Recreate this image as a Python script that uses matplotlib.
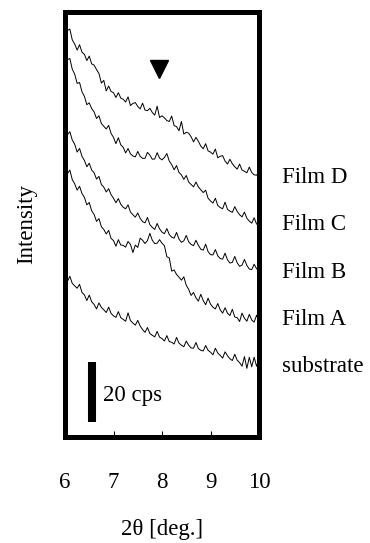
import numpy as np
import matplotlib
matplotlib.use('Agg')
import matplotlib.pyplot as plt

plt.rcParams['font.family'] = ['Liberation Serif', 'DejaVu Serif']

# 2theta grid (deg) and intensities (cps), curves stacked
two_theta = np.round(np.arange(6.0, 10.001, 0.05), 2)

film_d = [138.2, 135.5, 136.0, 132.4, 131.0, 129.0, 130.8, 128.3, 127.6, 125.5,
          127.0, 124.4, 124.0, 122.5, 121.2, 118.0, 118.9, 115.4, 117.0, 115.2,
          114.8, 113.2, 114.8, 113.0, 112.6, 111.7, 113.4, 110.5, 111.2, 111.5,
          110.2, 109.4, 111.3, 109.0, 108.8, 109.6, 108.2, 107.3, 110.3, 106.5,
          107.1, 106.4, 105.5, 105.2, 107.0, 103.8, 103.5, 102.1, 105.2, 101.0,
          101.6, 101.3, 100.1, 98.4, 99.9, 98.6, 97.0, 96.1, 97.8, 95.4,
          95.0, 94.3, 96.0, 93.1, 93.6, 93.8, 92.0, 91.0, 92.6, 91.1,
          90.1, 89.3, 91.0, 89.0, 88.6, 88.1, 90.0, 88.2, 87.4, 87.3,
          88.4]

film_c = [128.9, 125.8, 126.2, 122.6, 121.0, 117.9, 118.2, 115.1, 113.6, 110.8,
          111.4, 109.5, 108.4, 106.2, 107.1, 104.5, 103.6, 102.7, 103.9, 101.2,
          99.9, 97.8, 99.8, 97.4, 96.6, 94.7, 96.2, 94.4, 93.7, 93.4,
          95.2, 93.6, 92.9, 92.9, 94.9, 94.0, 92.6, 92.7, 94.8, 93.0,
          92.4, 93.2, 94.5, 92.0, 90.8, 89.1, 90.5, 88.2, 87.4, 85.9,
          87.2, 85.0, 84.2, 83.4, 85.0, 83.4, 82.4, 81.5, 82.3, 79.6,
          78.7, 78.0, 79.6, 77.2, 76.5, 76.1, 78.3, 75.9, 75.3, 74.9,
          76.8, 75.2, 74.1, 73.4, 75.0, 72.9, 72.0, 71.3, 73.1, 71.0,
          70.6]

film_b = [103.7, 100.8, 101.8, 99.0, 97.6, 95.0, 96.2, 93.6, 92.2, 90.1,
          91.3, 89.0, 88.1, 86.0, 86.9, 84.2, 83.3, 81.7, 82.8, 80.8,
          79.6, 78.1, 79.5, 77.6, 76.6, 76.1, 77.4, 75.0, 74.1, 73.3,
          74.7, 72.9, 71.8, 71.4, 73.2, 70.8, 69.9, 69.2, 71.2, 69.4,
          68.3, 67.8, 69.5, 67.5, 66.6, 66.3, 68.2, 66.0, 64.9, 65.4,
          67.2, 65.1, 64.2, 63.8, 65.6, 63.9, 62.6, 62.3, 64.3, 61.8,
          60.8, 60.7, 62.5, 60.4, 59.5, 59.3, 61.3, 59.1, 58.0, 58.2,
          60.2, 58.1, 56.9, 57.3, 59.2, 57.2, 56.0, 55.8, 57.6, 56.1,
          55.6]

film_a = [90.3, 87.8, 89.0, 85.8, 84.4, 82.3, 83.6, 81.2, 79.9, 77.4,
          78.2, 75.4, 74.2, 71.9, 72.8, 70.1, 69.2, 67.7, 68.9, 66.2,
          65.5, 63.6, 65.8, 64.0, 63.9, 63.3, 65.2, 64.2, 61.5, 64.0,
          63.2, 66.3, 65.6, 64.5, 65.5, 67.9, 65.6, 64.5, 64.6, 65.8,
          64.6, 63.8, 60.1, 59.7, 55.3, 55.7, 54.2, 53.3, 52.3, 53.4,
          50.6, 49.2, 47.2, 48.2, 46.4, 45.3, 47.6, 45.5, 44.1, 46.3,
          44.3, 43.3, 42.7, 44.5, 42.4, 41.3, 43.1, 41.3, 40.5, 42.6,
          40.0, 39.8, 38.5, 41.3, 39.6, 38.6, 40.9, 39.0, 38.3, 40.6,
          38.6]

substrate = [54.3, 51.9, 53.6, 51.2, 50.4, 49.6, 50.9, 48.2, 47.4, 45.5,
             47.3, 45.1, 44.2, 42.7, 44.7, 43.2, 42.4, 41.5, 43.3, 41.2,
             40.4, 39.9, 41.8, 39.8, 39.2, 38.6, 41.4, 38.8, 38.0, 37.3,
             38.9, 37.0, 35.8, 34.9, 36.5, 34.5, 33.9, 33.4, 35.2, 33.3,
             32.8, 32.0, 33.8, 31.8, 31.6, 31.0, 33.2, 31.3, 30.6, 30.1,
             32.0, 30.6, 29.7, 29.6, 31.5, 29.5, 28.9, 28.7, 30.5, 28.9,
             28.3, 27.4, 29.6, 28.0, 27.2, 26.3, 28.4, 27.1, 26.1, 25.5,
             27.6, 25.6, 24.8, 23.6, 26.8, 22.9, 26.6, 23.4, 26.6, 23.6,
             25.8]

curves = [film_d, film_c, film_b, film_a, substrate]
labels = ['Film D', 'Film C', 'Film B', 'Film A', 'substrate']
label_y = [84.7, 69.0, 53.0, 37.3, 21.7]
x_ticks = [6, 7, 8, 9, 10]

fig = plt.figure(figsize=(3.7, 5.43), dpi=100)
ax = fig.add_axes([65 / 370, 106 / 543, 194 / 370, 425 / 543])

for y in curves:
    ax.plot(two_theta, y, color='black', lw=0.7)

for lab, ly in zip(labels, label_y):
    ax.text(10.47, ly, lab, fontsize=16.5, va='baseline', ha='left', clip_on=False)

# peak marker
ax.plot(7.94, 122.7, marker='v', ms=13, color='black')

# 20 cps scale bar
ax.plot([6.56, 6.56], [5, 25], color='black', lw=5.8, solid_capstyle='butt')
ax.text(6.78, 12.1, '20 cps', fontsize=16.5, va='baseline', ha='left')

ax.set_xlim(6, 10)
ax.set_ylim(0, 141.7)
ax.set_xticks(x_ticks)
ax.tick_params(axis='x', direction='in', length=4, width=0.8, pad=25, labelsize=16.5)
for t in ax.xaxis.get_major_ticks():
    if t.get_loc() in (6, 10):
        t.tick1line.set_visible(False)
ax.set_yticks([])
for s in ax.spines.values():
    s.set_linewidth(3.6)

ax.set_xlabel('2θ [deg.]', fontsize=16.5, labelpad=19)
ax.set_ylabel('Intensity', fontsize=16.5, labelpad=20)

fig.savefig('out.png', dpi=100)
